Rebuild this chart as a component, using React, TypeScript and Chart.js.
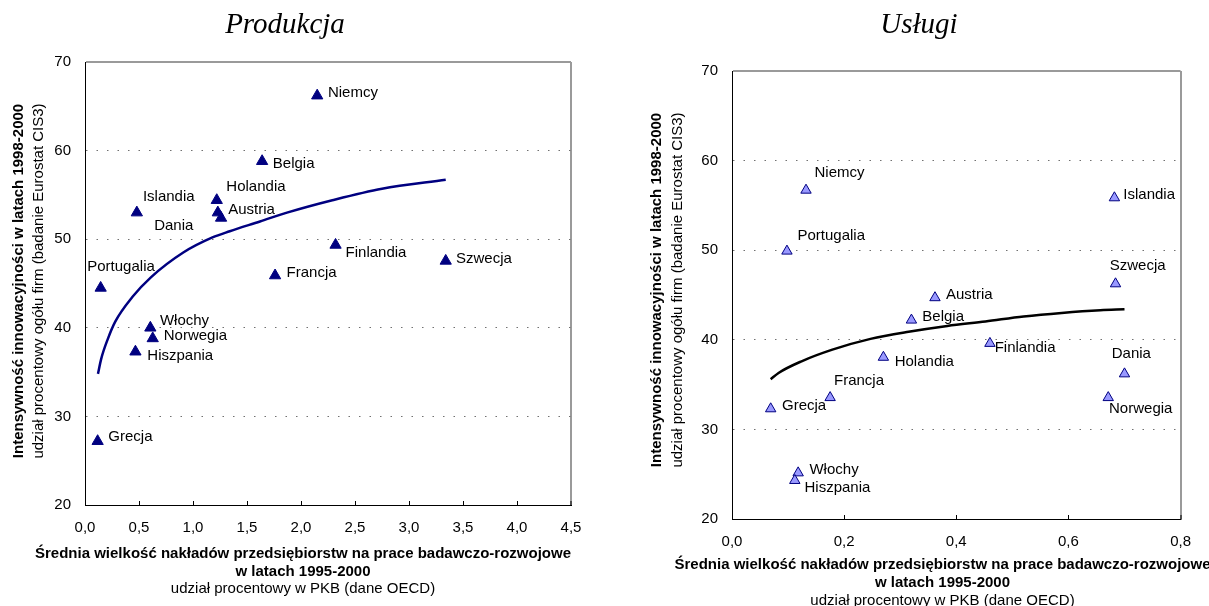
import React, { useEffect, useRef } from 'react';
import { Chart, registerables } from 'chart.js';

Chart.register(...registerables);

// ---------- DATA ----------
const prodCountries = ['Niemcy', 'Belgia', 'Holandia', 'Austria', 'Dania', 'Islandia', 'Portugalia', 'Francja', 'Finlandia', 'Szwecja', 'Włochy', 'Norwegia', 'Hiszpania', 'Grecja'];
const prodX = [2.15, 1.64, 1.22, 1.23, 1.26, 0.48, 0.145, 1.76, 2.32, 3.34, 0.605, 0.627, 0.467, 0.117];
const prodY = [66.2, 58.8, 54.4, 53.0, 52.4, 53.0, 44.5, 45.9, 49.35, 47.55, 40.0, 38.8, 37.3, 27.2];
const prodTrendX = [0.12, 0.15, 0.21, 0.28, 0.44, 0.61, 0.91, 1.18, 1.34, 1.62, 1.87, 2.29, 2.75, 3.34];
const prodTrendY = [34.8, 36.5, 38.7, 40.7, 43.5, 45.7, 48.5, 50.2, 50.9, 52.0, 53.0, 54.4, 55.7, 56.7];
const prodXTickValues = [0, 0.5, 1, 1.5, 2, 2.5, 3, 3.5, 4, 4.5];
const prodXTickLabels = ['0,0', '0,5', '1,0', '1,5', '2,0', '2,5', '3,0', '3,5', '4,0', '4,5'];

const servCountries = ['Niemcy', 'Islandia', 'Portugalia', 'Szwecja', 'Austria', 'Belgia', 'Finlandia', 'Holandia', 'Dania', 'Francja', 'Norwegia', 'Grecja', 'Włochy', 'Hiszpania'];
const servX = [0.132, 0.682, 0.098, 0.684, 0.362, 0.32, 0.46, 0.27, 0.70, 0.175, 0.671, 0.069, 0.118, 0.112];
const servY = [56.7, 55.85, 49.9, 46.25, 44.7, 42.2, 39.6, 38.05, 36.2, 33.55, 33.55, 32.3, 25.15, 24.3];
const servTrendX = [0.069, 0.083, 0.124, 0.179, 0.247, 0.315, 0.384, 0.452, 0.52, 0.588, 0.657, 0.70];
const servTrendY = [35.6, 36.3, 37.6, 38.9, 40.1, 40.9, 41.55, 42.05, 42.6, 43.0, 43.3, 43.4];
const servXTickValues = [0, 0.2, 0.4, 0.6, 0.8];
const servXTickLabels = ['0,0', '0,2', '0,4', '0,6', '0,8'];

const yTickValues = [20, 30, 40, 50, 60, 70];
const yTickLabels = ['20', '30', '40', '50', '60', '70'];

const yTitleBold = 'Intensywność innowacyjności w latach 1998-2000';
const yTitlePlain = 'udział procentowy ogółu firm (badanie Eurostat CIS3)';
const xTitle1 = 'Średnia wielkość nakładów przedsiębiorstw na prace badawczo-rozwojowe';
const xTitle2 = 'w latach 1995-2000';
const xTitle3 = 'udział procentowy w PKB (dane OECD)';

// ---------- LAYOUT (positions / styles, not data) ----------
const SANS = "'Liberation Sans', Arial, sans-serif";
const SERIF = "'Liberation Serif', 'Times New Roman', serif";

const prodLabelOffsets: [number, number][] = [
  [10.7, -3], [10.7, 3], [9.6, -13.5], [10.3, -3], [-66.9, 8], [6.1, -15.5], [-13.4, -21.5],
  [11.5, -3], [10, 8], [10.3, -2.5], [9.6, -7], [11, -3], [11.9, 4.5], [10.7, -4],
];
const servLabelOffsets: [number, number][] = [
  [8.5, -17], [8.9, -3], [10.5, -15], [-5.8, -18], [10.9, -3], [10.9, -3.5], [4.7, 4],
  [11.3, 4.5], [-12.8, -20], [3.9, -16.5], [0.8, 11], [11.3, -3], [11.3, -3], [9.7, 7.5],
];

type TextItem = { text: string; x: number; y: number; font: string; rotate?: boolean };

type Panel = {
  w: number;
  h: number;
  area: { left: number; top: number; right: number; bottom: number };
  xMax: number;
  xTickValues: number[];
  xTickLabels: string[];
  names: string[];
  xs: number[];
  ys: number[];
  trendX: number[];
  trendY: number[];
  offsets: [number, number][];
  markerFill: string;
  markerRadius: number;
  lineColor: string;
  texts: TextItem[];
};

const leftPanel: Panel = {
  w: 604,
  h: 606,
  area: { left: 85, top: 62, right: 571, bottom: 505 },
  xMax: 4.5,
  xTickValues: prodXTickValues,
  xTickLabels: prodXTickLabels,
  names: prodCountries,
  xs: prodX,
  ys: prodY,
  trendX: prodTrendX,
  trendY: prodTrendY,
  offsets: prodLabelOffsets,
  markerFill: '#000080',
  markerRadius: 6.5,
  lineColor: '#000080',
  texts: [
    { text: 'Produkcja', x: 285, y: 25, font: `italic 29px ${SERIF}` },
    { text: yTitleBold, x: 19, y: 281, font: `bold 15px ${SANS}`, rotate: true },
    { text: yTitlePlain, x: 39, y: 281, font: `15px ${SANS}`, rotate: true },
    { text: xTitle1, x: 303, y: 554, font: `bold 15px ${SANS}` },
    { text: xTitle2, x: 303, y: 572, font: `bold 15px ${SANS}` },
    { text: xTitle3, x: 303, y: 589, font: `15px ${SANS}` },
  ],
};

const rightPanel: Panel = {
  w: 605,
  h: 606,
  area: { left: 128, top: 71, right: 583, bottom: 519 },
  xMax: 0.8,
  xTickValues: servXTickValues,
  xTickLabels: servXTickLabels,
  names: servCountries,
  xs: servX,
  ys: servY,
  trendX: servTrendX,
  trendY: servTrendY,
  offsets: servLabelOffsets,
  markerFill: '#9999FF',
  markerRadius: 6,
  lineColor: '#000000',
  texts: [
    { text: 'Usługi', x: 315, y: 25, font: `italic 29px ${SERIF}` },
    { text: yTitleBold, x: 53, y: 290, font: `bold 15px ${SANS}`, rotate: true },
    { text: yTitlePlain, x: 73.5, y: 290, font: `15px ${SANS}`, rotate: true },
    { text: xTitle1, x: 338.5, y: 565, font: `bold 15px ${SANS}` },
    { text: xTitle2, x: 338.5, y: 583, font: `bold 15px ${SANS}` },
    { text: xTitle3, x: 338.5, y: 601, font: `15px ${SANS}` },
  ],
};

function buildConfig(p: Panel): any {
  const points = p.xs.map((x, i) => ({ x, y: p.ys[i] }));
  const trend = p.trendX.map((x, i) => ({ x, y: p.trendY[i] }));
  const lastX = p.xTickValues.length - 1;

  const textPlugin = {
    id: 'panelTexts',
    afterDraw(chart: any) {
      const ctx = chart.ctx;
      for (const t of p.texts) {
        ctx.save();
        ctx.font = t.font;
        ctx.fillStyle = '#000';
        ctx.textAlign = 'center';
        ctx.textBaseline = 'middle';
        ctx.translate(t.x, t.y);
        if (t.rotate) ctx.rotate(-Math.PI / 2);
        ctx.fillText(t.text, 0, 0);
        ctx.restore();
      }
    },
  };

  const labelPlugin = {
    id: 'pointLabels',
    afterDatasetsDraw(chart: any) {
      const ctx = chart.ctx;
      const meta = chart.getDatasetMeta(1);
      ctx.save();
      ctx.font = `15px ${SANS}`;
      ctx.fillStyle = '#000';
      ctx.textAlign = 'left';
      ctx.textBaseline = 'middle';
      meta.data.forEach((el: any, i: number) => {
        const [dx, dy] = p.offsets[i];
        ctx.fillText(p.names[i], el.x + dx, el.y + dy);
      });
      ctx.restore();
    },
  };

  return {
    type: 'scatter',
    data: {
      datasets: [
        {
          data: trend,
          showLine: true,
          borderColor: p.lineColor,
          borderWidth: 2.5,
          pointRadius: 0,
          cubicInterpolationMode: 'monotone',
          fill: false,
          order: 2,
        },
        {
          data: points,
          pointStyle: 'triangle',
          pointRadius: p.markerRadius,
          backgroundColor: p.markerFill,
          borderColor: '#000080',
          borderWidth: 1,
          order: 1,
        },
      ],
    },
    options: {
      responsive: false,
      animation: false,
      devicePixelRatio: 1,
      events: [],
      layout: { padding: { left: 0, top: p.area.top, right: p.w - p.area.right, bottom: 0 } },
      plugins: { legend: { display: false }, tooltip: { enabled: false }, title: { display: false } },
      scales: {
        x: {
          type: 'linear',
          min: 0,
          max: p.xMax,
          afterBuildTicks: (s: any) => {
            s.ticks = p.xTickValues.map((v) => ({ value: v }));
          },
          afterFit: (s: any) => {
            s.height = p.h - p.area.bottom;
          },
          ticks: {
            padding: 18,
            maxRotation: 0,
            autoSkip: false,
            color: '#000',
            font: { family: SANS, size: 15 },
            callback: (_v: any, i: number) => p.xTickLabels[i],
          },
          grid: {
            drawOnChartArea: true,
            drawTicks: true,
            tickLength: -4,
            tickColor: '#000',
            tickWidth: 1,
            color: (c: any) => (c.index === lastX ? '#9a9a9a' : 'rgba(0,0,0,0)'),
            lineWidth: (c: any) => (c.index === lastX ? 2 : 1),
          },
          border: { display: true, color: '#000', width: 1 },
        },
        y: {
          type: 'linear',
          min: 20,
          max: 70,
          afterBuildTicks: (s: any) => {
            s.ticks = yTickValues.map((v) => ({ value: v }));
          },
          afterFit: (s: any) => {
            s.width = p.area.left;
          },
          ticks: {
            padding: 14,
            color: '#000',
            font: { family: SANS, size: 15 },
            callback: (_v: any, i: number) => yTickLabels[i],
          },
          grid: {
            drawTicks: false,
            color: (c: any) => {
              const v = c.tick ? c.tick.value : 0;
              if (v === 20) return 'rgba(0,0,0,0)';
              if (v === 70) return '#9a9a9a';
              return '#707070';
            },
            lineWidth: (c: any) => (c.tick && c.tick.value === 70 ? 2 : 1),
          },
          border: {
            display: true,
            color: '#000',
            width: 1,
            dash: (c: any) => (c.tick && c.tick.value !== 70 ? [1.5, 9] : []),
          },
        },
      },
    },
    plugins: [textPlugin, labelPlugin],
  };
}

export default function App() {
  const leftRef = useRef<HTMLCanvasElement>(null);
  const rightRef = useRef<HTMLCanvasElement>(null);

  useEffect(() => {
    const c1 = new Chart(leftRef.current as HTMLCanvasElement, buildConfig(leftPanel));
    const c2 = new Chart(rightRef.current as HTMLCanvasElement, buildConfig(rightPanel));
    return () => {
      c1.destroy();
      c2.destroy();
    };
  }, []);

  return (
    <div style={{ position: 'absolute', left: 0, top: 0, width: 1209, height: 606, background: '#fff', overflow: 'hidden' }}>
      <canvas
        ref={leftRef}
        width={604}
        height={606}
        style={{ position: 'absolute', left: 0, top: 0, width: 604, height: 606 }}
      />
      <canvas
        ref={rightRef}
        width={605}
        height={606}
        style={{ position: 'absolute', left: 604, top: 0, width: 605, height: 606 }}
      />
    </div>
  );
}
